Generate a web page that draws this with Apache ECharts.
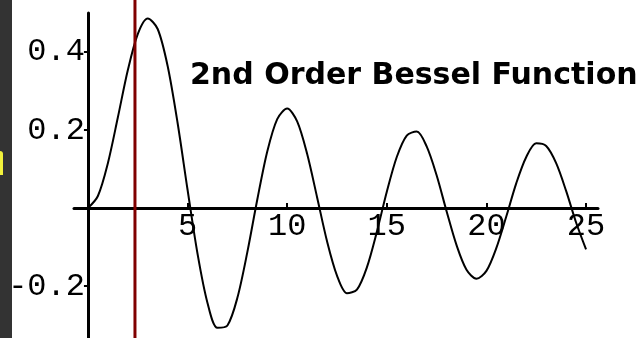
<!DOCTYPE html>
<html>
<head>
<meta charset="utf-8">
<script src="https://cdn.jsdelivr.net/npm/echarts@6/dist/echarts.min.js"></script>
<style>
  html, body { margin: 0; padding: 0; background: #ffffff; }
  #chart { width: 644px; height: 338px; }
</style>
</head>
<body>
<div id="chart"></div>
<script>
// Sample positions along the x axis
const xValues = [
  0, 0.5, 1, 1.5, 2, 2.5, 3, 3.5, 4, 4.5,
  5, 5.5, 6, 6.5, 7, 7.5, 8, 8.5, 9, 9.5,
  10, 10.5, 11, 11.5, 12, 12.5, 13, 13.5, 14, 14.5,
  15, 15.5, 16, 16.5, 17, 17.5, 18, 18.5, 19, 19.5,
  20, 20.5, 21, 21.5, 22, 22.5, 23, 23.5, 24, 24.5, 25
];
// J2(x) values at those positions
const besselJ2 = [
  0.000, 0.031, 0.115, 0.232, 0.353, 0.446, 0.486, 0.459, 0.364, 0.218,
  0.047, -0.117, -0.243, -0.307, -0.301, -0.230, -0.113, 0.022, 0.145, 0.228,
  0.255, 0.222, 0.139, 0.028, -0.085, -0.173, -0.218, -0.209, -0.152, -0.061,
  0.042, 0.131, 0.186, 0.196, 0.158, 0.084, -0.008, -0.095, -0.158, -0.181,
  -0.161, -0.102, -0.021, 0.064, 0.131, 0.166, 0.159, 0.115, 0.044, -0.037, -0.106
];
const xTicks = [5, 10, 15, 20, 25];
const yTicks = [-0.2, 0.2, 0.4];
const yTickLabels = ['-0.2', '0.2', '0.4'];
const cursorX = 2.36;
const titleText = '2nd Order Bessel Function';

const X_MIN = -0.7, X_MAX = 25.6;
const Y_MIN = -0.333, Y_MAX = 0.5;

const chart = echarts.init(document.getElementById('chart'), null, { renderer: 'canvas' });

const labelFont = {
  fontFamily: 'Liberation Mono',
  fontSize: 32,
  color: '#000000'
};

chart.setOption({
  animation: false,
  backgroundColor: '#ffffff',
  grid: { left: 74, right: 46, top: 13, bottom: 0, containLabel: false, outerBoundsMode: 'none' },
  xAxis: {
    type: 'value',
    min: X_MIN,
    max: X_MAX,
    position: 'bottom',
    splitLine: { show: false },
    axisLine: { onZero: false, lineStyle: { color: '#000', width: 3 } },
    axisTick: { show: true, inside: true, length: 5, lineStyle: { color: '#000', width: 2 }, customValues: xTicks },
    axisLabel: Object.assign({ margin: 2, customValues: xTicks, formatter: v => String(v) }, labelFont)
  },
  yAxis: {
    type: 'value',
    min: Y_MIN,
    max: Y_MAX,
    position: 'left',
    splitLine: { show: false },
    axisLine: { onZero: false, lineStyle: { color: '#000', width: 3 } },
    axisTick: { show: true, inside: false, length: 4, lineStyle: { color: '#000', width: 2 }, customValues: yTicks },
    axisLabel: Object.assign({
      margin: 3,
      customValues: yTicks,
      formatter: v => yTickLabels[yTicks.findIndex(t => Math.abs(t - v) < 1e-6)] || ''
    }, labelFont)
  },
  series: [{
    type: 'line',
    data: xValues.map((x, i) => [x, besselJ2[i]]),
    showSymbol: false,
    smooth: 0.3,
    lineStyle: { color: '#000000', width: 2 },
    z: 3
  }]
});

// Move both axes (line, ticks and labels) onto the origin of the plot
const leftPx = chart.convertToPixel({ xAxisIndex: 0 }, X_MIN);
const zeroXPx = chart.convertToPixel({ xAxisIndex: 0 }, 0);
const bottomPx = chart.convertToPixel({ yAxisIndex: 0 }, Y_MIN);
const zeroYPx = chart.convertToPixel({ yAxisIndex: 0 }, 0);
const cursorPx = chart.convertToPixel({ xAxisIndex: 0 }, cursorX);

chart.setOption({
  xAxis: { offset: -(bottomPx - zeroYPx) },
  yAxis: { offset: -(zeroXPx - leftPx) },
  graphic: [
    { type: 'rect', shape: { x: 0, y: 0, width: 12, height: 338 }, style: { fill: '#333333' }, z: 10 },
    { type: 'rect', shape: { x: 0, y: 151, width: 3, height: 24, r: [0, 3, 0, 0] }, style: { fill: '#f2f23c' }, z: 11 },
    { type: 'rect', shape: { x: cursorPx - 1.5, y: 0, width: 3, height: 338 }, style: { fill: '#800000' }, z: 20 },
    {
      type: 'text', x: 190, y: 76, z: 15,
      style: {
        text: titleText,
        fontFamily: 'DejaVu Sans',
        fontWeight: 'bold',
        fontSize: 30,
        fill: '#000000',
        verticalAlign: 'middle'
      }
    }
  ]
});
</script>
</body>
</html>
